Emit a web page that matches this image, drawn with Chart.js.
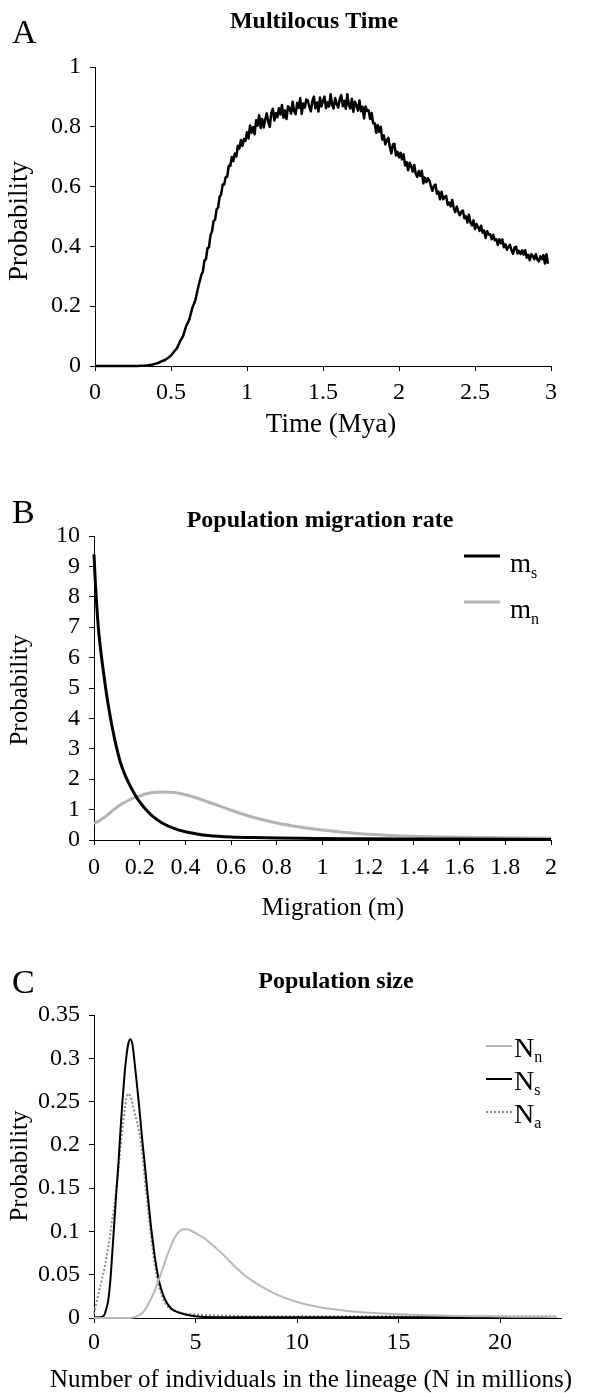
<!DOCTYPE html>
<html><head><meta charset="utf-8">
<script src="https://cdn.jsdelivr.net/npm/chart.js@4"></script>
<style>
html,body{margin:0;padding:0;background:#fff;}
#wrap{position:relative;width:600px;height:1393px;background:#fff;}
canvas{position:absolute;left:0;}
</style></head><body>
<div id="wrap">
<canvas id="cA" width="600" height="450" style="top:0px"></canvas>
<canvas id="cB" width="600" height="480" style="top:450px"></canvas>
<canvas id="cC" width="600" height="463" style="top:930px"></canvas>
</div>
<script>
// ---------- Panel A: Multilocus Time ----------
const timeMya = [
0,0.02,0.04,0.06,0.08,0.1,0.12,0.14,0.16,0.18,0.2,0.22,0.24,0.26,0.28,
0.3,0.32,0.34,0.36,0.38,0.4,0.42,0.44,0.46,0.48,0.5,0.52,0.54,0.56,0.58,0.6,0.62,0.64,0.66,0.68,
0.7,0.71,0.72,0.73,0.74,0.75,0.76,0.77,0.78,0.79,0.8,0.81,0.82,0.83,0.84,0.85,0.86,0.87,0.88,0.89,
0.9,0.91,0.92,0.93,0.94,0.95,0.96,0.97,0.98,0.99,
1,1.01,1.02,1.03,1.04,1.05,1.06,1.07,1.08,1.09,1.1,1.11,1.12,1.13,1.14,1.15,1.16,1.17,1.18,1.19,
1.2,1.21,1.22,1.23,1.24,1.25,1.26,1.27,1.28,1.29,1.3,1.31,1.32,1.33,1.34,1.35,1.36,1.37,1.38,1.39,
1.4,1.41,1.42,1.43,1.44,1.45,1.46,1.47,1.48,1.49,1.5,1.51,1.52,1.53,1.54,1.55,1.56,1.57,1.58,1.59,
1.6,1.61,1.62,1.63,1.64,1.65,1.66,1.67,1.68,1.69,1.7,1.71,1.72,1.73,1.74,1.75,1.76,1.77,1.78,1.79,
1.8,1.81,1.82,1.83,1.84,1.85,1.86,1.87,1.88,1.89,1.9,1.91,1.92,1.93,1.94,1.95,1.96,1.97,1.98,1.99,
2,2.01,2.02,2.03,2.04,2.05,2.06,2.07,2.08,2.09,2.1,2.11,2.12,2.13,2.14,2.15,2.16,2.17,2.18,2.19,
2.2,2.21,2.22,2.23,2.24,2.25,2.26,2.27,2.28,2.29,2.3,2.31,2.32,2.33,2.34,2.35,2.36,2.37,2.38,2.39,
2.4,2.41,2.42,2.43,2.44,2.45,2.46,2.47,2.48,2.49,2.5,2.51,2.52,2.53,2.54,2.55,2.56,2.57,2.58,2.59,
2.6,2.61,2.62,2.63,2.64,2.65,2.66,2.67,2.68,2.69,2.7,2.71,2.72,2.73,2.74,2.75,2.76,2.77,2.78,2.79,
2.8,2.81,2.82,2.83,2.84,2.85,2.86,2.87,2.88,2.89,2.9,2.91,2.92,2.93,2.94,2.95,2.96,2.97,2.98];
const timeProb = [
0,0,0,0,0,0,0,0,0,0,0,0,0,0,0,
0.001,0.001,0.002,0.003,0.005,0.008,0.011,0.016,0.02,0.027,0.035,0.048,0.06,0.083,0.101,0.134,0.155,0.194,0.219,0.266,
0.305,0.316,0.353,0.357,0.393,0.398,0.438,0.45,0.485,0.489,0.524,0.53,0.566,0.574,0.607,0.607,0.632,0.633,0.67,0.669,
0.699,0.685,0.711,0.701,0.737,0.727,0.756,0.736,0.759,0.753,
0.782,0.761,0.804,0.78,0.799,0.775,0.822,0.804,0.839,0.796,0.826,0.798,0.825,0.845,0.816,0.8,0.847,0.86,0.821,0.846,
0.832,0.862,0.841,0.873,0.83,0.855,0.826,0.869,0.863,0.844,0.884,0.852,0.842,0.88,0.863,0.896,0.843,0.878,0.864,0.891,
0.888,0.867,0.852,0.886,0.901,0.862,0.881,0.851,0.898,0.868,0.887,0.901,0.862,0.882,0.868,0.909,0.873,0.861,0.896,0.878,
0.864,0.892,0.906,0.869,0.887,0.86,0.909,0.872,0.861,0.894,0.85,0.884,0.872,0.854,0.888,0.852,0.867,0.828,0.868,0.853,
0.855,0.826,0.846,0.812,0.812,0.78,0.806,0.783,0.8,0.757,0.771,0.741,0.755,0.763,0.731,0.711,0.741,0.743,0.704,0.716,
0.698,0.713,0.691,0.708,0.671,0.682,0.655,0.68,0.669,0.65,0.672,0.644,0.632,0.652,0.636,0.653,0.611,0.63,0.615,0.628,
0.62,0.601,0.586,0.603,0.607,0.576,0.583,0.558,0.583,0.558,0.565,0.569,0.539,0.547,0.534,0.555,0.528,0.515,0.533,0.516,
0.504,0.516,0.52,0.494,0.501,0.48,0.506,0.48,0.47,0.487,0.458,0.475,0.465,0.452,0.469,0.446,0.453,0.428,0.451,0.44,
0.441,0.424,0.439,0.421,0.424,0.405,0.424,0.41,0.423,0.397,0.407,0.389,0.399,0.405,0.387,0.375,0.396,0.399,0.376,0.385,
0.375,0.387,0.373,0.387,0.362,0.372,0.354,0.374,0.368,0.357,0.374,0.356,0.35,0.367,0.357,0.371,0.343,0.374,0.342];
const timeTickValues = [0,0.5,1,1.5,2,2.5,3];
const timeTickLabels = ['0','0.5','1','1.5','2','2.5','3'];
const probATickValues = [0,0.2,0.4,0.6,0.8,1];
const probATickLabels = ['0','0.2','0.4','0.6','0.8','1'];

// ---------- Panel B: Population migration rate ----------
const migrationX = [0,0.005,0.01,0.02,0.03,0.04,0.05,0.06,0.08,0.1,0.12,0.15,0.18,0.2,0.23,0.26,0.3,0.35,0.4,0.45,0.5,0.6,0.7,0.8,0.9,1.0,1.1,1.2,1.4,1.6,1.8,2.0];
const migrationMs = [9.4,8.6,7.95,6.9,6.2,5.6,5.05,4.55,3.7,3.0,2.45,1.9,1.48,1.25,0.98,0.76,0.55,0.38,0.27,0.2,0.15,0.1,0.08,0.065,0.055,0.05,0.045,0.04,0.035,0.03,0.025,0.02];
const migrationMn = [0.55,0.565,0.58,0.62,0.67,0.72,0.77,0.83,0.96,1.08,1.18,1.3,1.4,1.45,1.52,1.56,1.58,1.56,1.49,1.38,1.25,0.98,0.74,0.56,0.43,0.33,0.25,0.19,0.12,0.09,0.07,0.06];
const migrationTickValues = [0,0.2,0.4,0.6,0.8,1,1.2,1.4,1.6,1.8,2];
const migrationTickLabels = ['0','0.2','0.4','0.6','0.8','1','1.2','1.4','1.6','1.8','2'];
const probBTickValues = [0,1,2,3,4,5,6,7,8,9,10];
const probBTickLabels = ['0','1','2','3','4','5','6','7','8','9','10'];
const migrationLegend = [{base:'m', sub:'s'}, {base:'m', sub:'n'}];

// ---------- Panel C: Population size ----------
const nnX = [0,1.8,2.0,2.2,2.4,2.6,2.8,3.0,3.2,3.4,3.6,3.8,4.0,4.2,4.4,4.6,4.8,5.0,5.5,6.0,6.5,7.0,7.5,8,8.5,9,10,11,12,13,14,15,16,17,18,19,20,21,22,22.8];
const nnY = [0,0,0.001,0.003,0.006,0.013,0.022,0.032,0.045,0.058,0.072,0.084,0.094,0.1,0.1025,0.1025,0.1005,0.098,0.091,0.081,0.07,0.058,0.048,0.04,0.033,0.027,0.0185,0.013,0.0095,0.007,0.0055,0.0043,0.0035,0.0028,0.0023,0.002,0.0017,0.0015,0.0013,0.0012];
const nsX = [0,0.3,0.5,0.6,0.7,0.8,0.9,1.0,1.1,1.2,1.3,1.4,1.5,1.6,1.7,1.8,1.9,2.0,2.1,2.2,2.3,2.4,2.5,2.6,2.7,2.8,2.9,3.0,3.2,3.4,3.6,3.8,4.0,4.5,5,6,8,10,15,20,22.8];
const nsY = [0.001,0.001,0.003,0.01,0.02,0.042,0.075,0.11,0.145,0.178,0.215,0.25,0.28,0.303,0.318,0.322,0.315,0.295,0.273,0.25,0.225,0.2,0.178,0.153,0.13,0.107,0.088,0.07,0.043,0.027,0.017,0.011,0.008,0.004,0.002,0.001,0.001,0.001,0.001,0.001,0.001];
const naX = [0,0.1,0.2,0.3,0.4,0.5,0.6,0.7,0.8,0.9,1.0,1.1,1.2,1.3,1.4,1.5,1.6,1.7,1.8,1.9,2.0,2.1,2.2,2.3,2.4,2.5,2.6,2.7,2.8,2.9,3.0,3.2,3.4,3.6,3.8,4.0,4.5,5,6,8,10,15,20,22.8];
const naY = [0.005,0.016,0.026,0.036,0.046,0.056,0.068,0.082,0.097,0.114,0.13,0.15,0.17,0.196,0.218,0.238,0.254,0.259,0.255,0.247,0.237,0.228,0.218,0.205,0.185,0.16,0.138,0.117,0.096,0.077,0.061,0.037,0.022,0.014,0.01,0.008,0.005,0.004,0.003,0.002,0.002,0.002,0.002,0.002];
const sizeTickValues = [0,5,10,15,20];
const sizeTickLabels = ['0','5','10','15','20'];
const probCTickValues = [0,0.05,0.1,0.15,0.2,0.25,0.3,0.35];
const probCTickLabels = ['0','0.05','0.1','0.15','0.2','0.25','0.3','0.35'];
const sizeLegend = [{base:'N', sub:'n'}, {base:'N', sub:'s'}, {base:'N', sub:'a'}];

// ---------- helpers ----------
const FONT = '"Liberation Serif", "Times New Roman", serif';
const pts = (xs, ys) => xs.map((x, i) => ({x: x, y: ys[i]}));

function makeAxis(o) {
  return {
    type: 'linear', min: o.min, max: o.max,
    afterFit: s => { if (s.isHorizontal()) s.height = o.size; else s.width = o.size; },
    afterBuildTicks: s => { s.ticks = o.values.map(v => ({value: v})); },
    ticks: {
      callback: (v, i) => o.labels[i],
      font: {family: FONT, size: 24}, color: '#000',
      padding: o.tickPad, maxRotation: 0, minRotation: 0, autoSkip: false
    },
    grid: {drawOnChartArea: false, drawTicks: true, tickLength: 5, color: '#000', lineWidth: 1},
    border: {display: true, color: '#000', width: 1},
    title: {display: false, text: o.title}
  };
}

const decor = {
  id: 'decor',
  afterDraw(chart, args, opts) {
    const ctx = chart.ctx;
    ctx.save();
    ctx.fillStyle = '#000';
    // panel letter
    ctx.textBaseline = 'alphabetic';
    ctx.textAlign = 'left';
    ctx.font = '34px ' + FONT;
    ctx.fillText(opts.letter, opts.letterX, opts.letterY);
    // panel title
    ctx.textAlign = 'center';
    ctx.font = 'bold 24px ' + FONT;
    ctx.fillText(opts.title, opts.titleX, opts.titleY);
    // axis titles
    ctx.font = opts.axisFont + 'px ' + FONT;
    ctx.textBaseline = 'middle';
    ctx.fillText(chart.options.scales.x.title.text, opts.xTitleX, opts.xTitleY);
    ctx.save();
    ctx.translate(opts.yTitleX, opts.yTitleY);
    ctx.rotate(-Math.PI / 2);
    ctx.fillText(chart.options.scales.y.title.text, 0, 0);
    ctx.restore();
    // legend
    if (opts.legend) {
      const L = opts.legend;
      ctx.textBaseline = 'alphabetic';
      L.items.forEach((it, k) => {
        const ds = chart.data.datasets[k];
        const y = L.y0 + k * L.dy;
        ctx.save();
        ctx.strokeStyle = ds.borderColor;
        ctx.lineWidth = ds.borderWidth;
        ctx.setLineDash(ds.borderDash || []);
        ctx.beginPath();
        ctx.moveTo(L.x0, y); ctx.lineTo(L.x1, y); ctx.stroke();
        ctx.restore();
        ctx.textAlign = 'left';
        ctx.font = L.size + 'px ' + FONT;
        ctx.fillText(it.base, L.tx, y + L.baseOff);
        const w = ctx.measureText(it.base).width;
        ctx.font = L.subSize + 'px ' + FONT;
        ctx.fillText(it.sub, L.tx + w, y + L.subOff);
      });
    }
    ctx.restore();
  }
};

const common = (padding) => ({
  responsive: false, animation: false, devicePixelRatio: 1,
  layout: {padding: padding},
  plugins: {legend: {display: false}, tooltip: {enabled: false}},
  elements: {point: {radius: 0}}
});

// ---------- Chart A ----------
const optA = common({top: 67, left: 0, right: 49, bottom: 0});
optA.scales = {
  x: makeAxis({min: 0, max: 3, size: 84, values: timeTickValues, labels: timeTickLabels, tickPad: 7, title: 'Time (Mya)'}),
  y: makeAxis({min: 0, max: 1, size: 95, values: probATickValues, labels: probATickLabels, tickPad: 9, title: 'Probability'})
};
optA.plugins.decor = {letter: 'A', letterX: 12, letterY: 43, title: 'Multilocus Time', titleX: 314, titleY: 28,
  axisFont: 27, xTitleX: 331, xTitleY: 425, yTitleX: 20, yTitleY: 221};
new Chart(document.getElementById('cA'), {
  type: 'line',
  data: {datasets: [{label: 'Multilocus Time', data: pts(timeMya, timeProb), borderColor: '#000', borderWidth: 2.5, tension: 0, clip: 4, borderJoinStyle: 'round'}]},
  options: optA, plugins: [decor]
});

// ---------- Chart B ----------
const optB = common({top: 86, left: 0, right: 49, bottom: 0});
optB.scales = {
  x: makeAxis({min: 0, max: 2, size: 90, values: migrationTickValues, labels: migrationTickLabels, tickPad: 8, title: 'Migration (m)'}),
  y: makeAxis({min: 0, max: 10, size: 94, values: probBTickValues, labels: probBTickLabels, tickPad: 9, title: 'Probability'})
};
optB.plugins.decor = {letter: 'B', letterX: 12, letterY: 73, title: 'Population migration rate', titleX: 320, titleY: 77,
  axisFont: 25, xTitleX: 333, xTitleY: 458, yTitleX: 20, yTitleY: 240,
  legend: {items: migrationLegend, x0: 464, x1: 500, y0: 106, dy: 46, tx: 510, size: 27, subSize: 16, baseOff: 16, subOff: 22}};
new Chart(document.getElementById('cB'), {
  type: 'line',
  data: {datasets: [
    {label: 'ms', data: pts(migrationX, migrationMs), borderColor: '#000', borderWidth: 3, cubicInterpolationMode: 'monotone', clip: 4},
    {label: 'mn', data: pts(migrationX, migrationMn), borderColor: '#b4b4b4', borderWidth: 3, cubicInterpolationMode: 'monotone', clip: 4}
  ]},
  options: optB, plugins: [decor]
});

// ---------- Chart C ----------
const optC = common({top: 85, left: 0, right: 39, bottom: 0});
optC.scales = {
  x: makeAxis({min: 0, max: 23, size: 75, values: sizeTickValues, labels: sizeTickLabels, tickPad: 5, title: 'Number of individuals in the lineage (N in millions)'}),
  y: makeAxis({min: 0, max: 0.35, size: 94, values: probCTickValues, labels: probCTickLabels, tickPad: 9, title: 'Probability'})
};
optC.plugins.decor = {letter: 'C', letterX: 12, letterY: 63, title: 'Population size', titleX: 336, titleY: 58,
  axisFont: 25, xTitleX: 311, xTitleY: 450, yTitleX: 20, yTitleY: 236,
  legend: {items: sizeLegend, x0: 486, x1: 512, y0: 116, dy: 33, tx: 514, size: 28, subSize: 16, baseOff: 11, subOff: 16}};
new Chart(document.getElementById('cC'), {
  type: 'line',
  data: {datasets: [
    {label: 'Nn', data: pts(nnX, nnY), borderColor: '#b8b8b8', borderWidth: 2, cubicInterpolationMode: 'monotone', clip: 4},
    {label: 'Ns', data: pts(nsX, nsY), borderColor: '#000', borderWidth: 2, cubicInterpolationMode: 'monotone', clip: 4},
    {label: 'Na', data: pts(naX, naY), borderColor: '#8c8c8c', borderWidth: 2, borderDash: [2, 2], cubicInterpolationMode: 'monotone', clip: 4}
  ]},
  options: optC, plugins: [decor]
});
</script>
</body></html>
